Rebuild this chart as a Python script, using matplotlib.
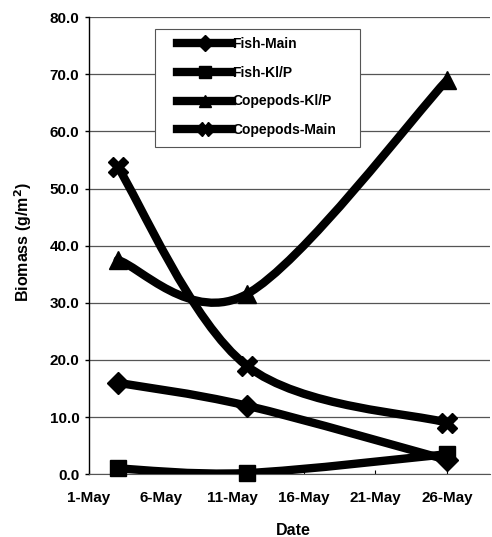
import matplotlib
matplotlib.use("Agg")
import matplotlib.pyplot as plt
from matplotlib.path import Path
from matplotlib.patches import PathPatch, Rectangle
from matplotlib.lines import Line2D
import numpy as np

# sampling days (day of May)
days = [3, 12, 26]

fish_main = [16.0, 12.0, 2.5]
fish_kp = [1.0, 0.2, 3.5]
cope_kp = [37.5, 31.5, 69.0]
cope_main = [53.8, 19.0, 9.0]

series = [
    ("Fish-Main", fish_main, "D", 11),
    ("Fish-Kl/P", fish_kp, "s", 12),
    ("Copepods-Kl/P", cope_kp, "^", 13),
    ("Copepods-Main", cope_main, "X", 14),
]

tick_days = [1, 6, 11, 16, 21, 26]
tick_labels = ["1-May", "6-May", "11-May", "16-May", "21-May", "26-May"]
y_ticks = np.arange(0, 81, 10)

plt.rcParams['font.family'] = ['Liberation Sans', 'DejaVu Sans']
plt.rcParams['font.weight'] = 'bold'


def smooth_path(x, y):
    """Excel-style smoothed line as cubic bezier segments."""
    pts = np.column_stack([x, y]).astype(float)
    n = len(pts)
    verts = [pts[0]]
    codes = [Path.MOVETO]
    for i in range(n - 1):
        p0 = pts[i - 1] if i > 0 else pts[i]
        p1 = pts[i]
        p2 = pts[i + 1]
        p3 = pts[i + 2] if i + 2 < n else pts[i + 1]
        c1 = p1 + (p2 - p0) / 6.0
        c2 = p2 - (p3 - p1) / 6.0
        verts += [c1, c2, p2]
        codes += [Path.CURVE4] * 3
    return Path(verts, codes)


fig = plt.figure(figsize=(4.92, 5.37), dpi=100)
ax = fig.add_axes([0.181, 0.117, 0.815, 0.851])

lw = 6
handles = []
for name, vals, mk, ms in series:
    patch = PathPatch(smooth_path(days, vals), facecolor='none', edgecolor='black',
                      linewidth=lw, capstyle='round', joinstyle='round', zorder=3)
    ax.add_patch(patch)
    ax.plot(days, vals, linestyle='none', marker=mk, markersize=ms,
            color='black', zorder=4, clip_on=False)
    handles.append(Line2D([], [], color='black', linewidth=lw, marker=mk,
                          markersize=ms * 0.7, label=name))

ax.set_xlim(1, 29)
ax.set_ylim(0, 80)
ax.set_yticks(y_ticks)
ax.set_yticklabels([f"{v:.1f}" for v in y_ticks], fontsize=11, fontweight='bold')
ax.set_xticks(tick_days)
ax.set_xticklabels(tick_labels, fontsize=11, fontweight='bold')

ax.grid(axis='y', color='#555555', linewidth=0.9)
ax.set_axisbelow(True)
for s in ['top', 'right']:
    ax.spines[s].set_visible(False)
ax.spines['left'].set_linewidth(1.0)
ax.spines['bottom'].set_color('#555555')
ax.tick_params(axis='y', direction='out', length=3, width=1, pad=4)
ax.tick_params(axis='x', direction='in', length=3, width=0.8, pad=12)

ax.set_ylabel("Biomass (g/m$^\\mathbf{2}$)", fontsize=11.5, fontweight='bold')
ax.yaxis.set_label_coords(-0.137, 0.507)
ax.set_xlabel("Date", fontsize=11.5, fontweight='bold')
ax.xaxis.set_label_coords(0.51, -0.1076)

# legend frame drawn separately, entries placed inside it
ax.add_patch(Rectangle((0.1646, 0.7155), 0.5115, 0.2582, transform=ax.transAxes,
                       facecolor='white', edgecolor='#555555', linewidth=0.8,
                       zorder=5, clip_on=False))
leg = ax.legend(handles=handles, loc='upper left', bbox_to_anchor=(0.2195, 0.9562),
                borderaxespad=0, borderpad=0, frameon=False, handlelength=3.96,
                handletextpad=0.0, labelspacing=1.05,
                prop={'size': 10, 'weight': 'bold'})
leg.set_zorder(6)

fig.savefig("out.png", dpi=100)
